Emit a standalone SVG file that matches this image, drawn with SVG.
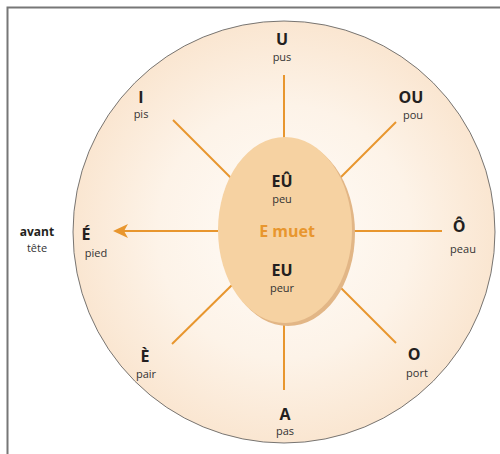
<svg xmlns="http://www.w3.org/2000/svg" width="500" height="454" viewBox="0 0 500 454">
<defs>
<radialGradient id="bg" cx="0.5" cy="0.5" r="0.5">
<stop offset="0" stop-color="#fffcf8"/>
<stop offset="0.6" stop-color="#fdf3e8"/>
<stop offset="1" stop-color="#fae6d1"/>
</radialGradient>
</defs>
<style>
.b{font-family:"Open Sans","Liberation Sans",sans-serif;font-weight:bold;font-size:16px;fill:#231f20;text-anchor:middle}
.s{font-family:"Open Sans","Liberation Sans",sans-serif;font-size:11px;fill:#333;text-anchor:middle}
.sp{stroke:#e8962e;stroke-width:2;fill:none}
</style>
<rect width="500" height="454" fill="#fff"/>
<path d="M7.5,454 V7.5 H500" fill="none" stroke="#777" stroke-width="2"/>
<g id="disc">
<circle cx="284" cy="232" r="211" fill="url(#bg)" stroke="#555" stroke-width="0.8"/>
</g>
<g id="connectors">
<line class="sp" x1="284" y1="75" x2="284" y2="138"/>
<line class="sp" x1="284" y1="322" x2="284" y2="390"/>
<line class="sp" x1="173" y1="120" x2="232" y2="179"/>
<line class="sp" x1="396" y1="122" x2="338" y2="180"/>
<line class="sp" x1="172" y1="344" x2="232" y2="285"/>
<line class="sp" x1="396" y1="343" x2="338" y2="285"/>
<line class="sp" x1="352" y1="231" x2="442" y2="231"/>
<line class="sp" x1="218" y1="231" x2="124" y2="231"/>
<path d="M113,231 L128,224 L124,231 L128,238 z" fill="#e8962e"/>
</g>
<g id="center">
<ellipse cx="288" cy="233" rx="67" ry="93" fill="#e2b686"/>
<ellipse cx="285" cy="230" rx="67" ry="93" fill="#f6d2a2"/>
<text class="b" x="282" y="187">EÛ</text>
<text class="s" x="282" y="203">peu</text>
<text class="b" x="287" y="237" style="fill:#e8962e">E muet</text>
<text class="b" x="282" y="276">EU</text>
<text class="s" x="282" y="292">peur</text>
</g>
<g id="n-U"><text class="b" x="282" y="45">U</text><text class="s" x="282" y="61">pus</text></g>
<g id="n-I"><text class="b" x="141" y="103">I</text><text class="s" x="141" y="118">pis</text></g>
<g id="n-OU"><text class="b" x="411" y="103">OU</text><text class="s" x="413" y="119">pou</text></g>
<g id="n-E-aigu"><text class="b" x="86" y="240">É</text><text class="s" x="96" y="257">pied</text></g>
<g id="n-avant"><text class="b" x="37" y="236" style="font-size:12px">avant</text><text class="s" x="37" y="252">tête</text></g>
<g id="n-O-circ"><text class="b" x="459" y="232">Ô</text><text class="s" x="463" y="253">peau</text></g>
<g id="n-E-grave"><text class="b" x="145" y="362">È</text><text class="s" x="146" y="378">pair</text></g>
<g id="n-O"><text class="b" x="414" y="360">O</text><text class="s" x="417" y="377">port</text></g>
<g id="n-A"><text class="b" x="285" y="420">A</text><text class="s" x="285" y="435">pas</text></g>
</svg>
